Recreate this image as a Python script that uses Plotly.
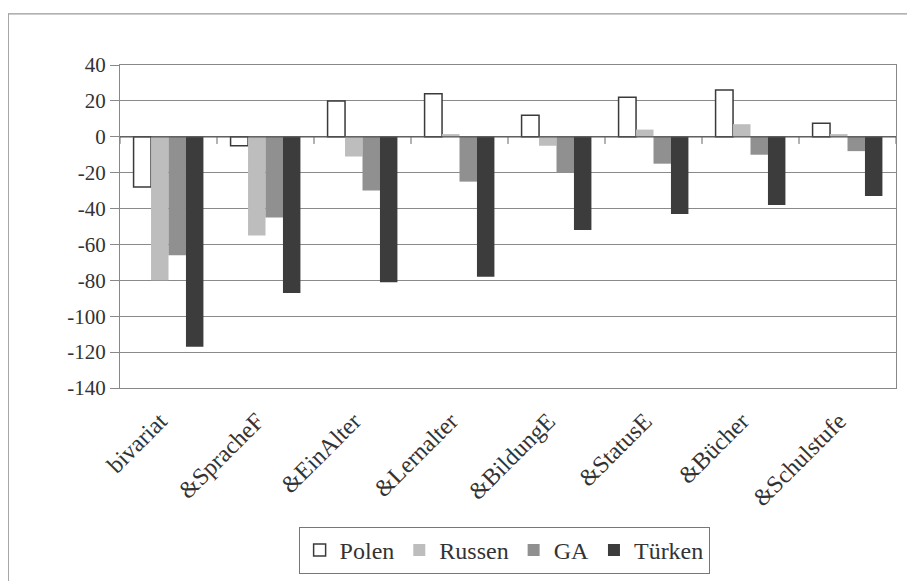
import plotly.graph_objects as go

categories = ["bivariat", "&SpracheF", "&EinAlter", "&Lernalter", "&BildungE", "&StatusE", "&Bücher", "&Schulstufe"]
polen = [-28, -5, 20, 24, 12, 22, 26, 7.5]
russen = [-80, -55, -11, 1.5, -5, 4, 7, 1.5]
ga = [-66, -45, -30, -25, -20, -15, -10, -8]
tuerken = [-117, -87, -81, -78, -52, -43, -38, -33]
y_ticks = [40, 20, 0, -20, -40, -60, -80, -100, -120, -140]

FONT = "Liberation Serif"
TXT = "#333333"

fig = go.Figure()
series = [
    ("Polen", polen, "#ffffff", "#3a3a3a", 1.5),
    ("Russen", russen, "#bdbdbd", "#bdbdbd", 0),
    ("GA", ga, "#909090", "#909090", 0),
    ("Türken", tuerken, "#3c3c3c", "#3c3c3c", 0),
]
for name, vals, fill, line, lw in series:
    fig.add_trace(go.Bar(
        name=name, x=categories, y=vals,
        marker=dict(color=fill, line=dict(color=line, width=lw)),
    ))

shapes = []
# zero (category) axis line with tick marks between categories
shapes.append(dict(type="line", xref="paper", yref="y", x0=0, x1=1, y0=0, y1=0,
                   line=dict(color="#555555", width=1.2)))
for i in range(len(categories) + 1):
    shapes.append(dict(type="line", xref="x", yref="y", x0=i - 0.5, x1=i - 0.5, y0=0, y1=-4,
                       line=dict(color="#666666", width=1)))
# outer chart border
shapes.append(dict(type="rect", xref="paper", yref="paper", x0=-0.144, x1=1.06, y0=-0.75, y1=1.158,
                   line=dict(color="#999999", width=1.2), fillcolor="rgba(0,0,0,0)", layer="below"))

fig.update_layout(
    width=915, height=581,
    margin=dict(l=112, r=27, t=57, b=201),
    paper_bgcolor="white", plot_bgcolor="white",
    barmode="group", bargap=0.28, bargroupgap=0,
    font=dict(family=FONT, color=TXT, size=20),
    showlegend=True,
    legend=dict(orientation="h", x=0.495, xanchor="center", y=-0.43, yanchor="top",
                bordercolor="#777777", borderwidth=1, font=dict(family=FONT, size=24, color=TXT),
                traceorder="normal", itemwidth=30, tracegroupgap=0),
    shapes=shapes,
    xaxis=dict(
        type="category", range=[-0.5, len(categories) - 0.5],
        tickmode="array", tickvals=categories,
        ticktext=[c + "\u00a0\u00a0" for c in categories],
        tickangle=-45, tickfont=dict(family=FONT, size=24, color=TXT),
        showgrid=False, showline=True, mirror=True, linecolor="#888888", linewidth=1,
        ticks="", zeroline=False,
    ),
    yaxis=dict(
        range=[-140, 40], tickvals=y_ticks, ticktext=[str(v) for v in y_ticks],
        tickfont=dict(family=FONT, size=21, color=TXT),
        showgrid=True, gridcolor="#8a8a8a", gridwidth=1,
        showline=True, mirror=True, linecolor="#888888", linewidth=1,
        ticks="outside", ticklen=9, tickcolor="#888888", zeroline=False,
    ),
)

fig.write_html("out.html")
